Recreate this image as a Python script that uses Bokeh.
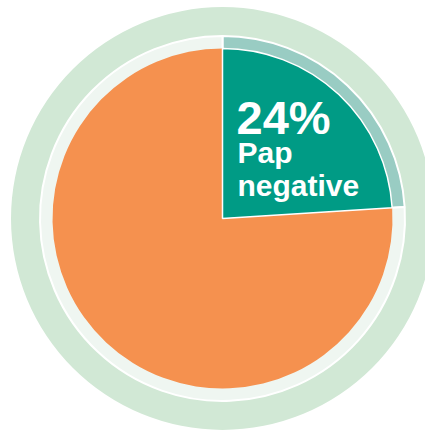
import math
from bokeh.plotting import figure
from bokeh.models import Range1d, ColumnDataSource
from bokeh.core.properties import value
from bokeh.embed import file_html
from bokeh.resources import INLINE

# Data
categories = ["Pap negative", "Other"]
shares = [24, 76]
main_colors = ["#009B85", "#F5914F"]
band_colors = ["#99CCC3", "#EFF6F1"]
label_pct = "24%"
label_lines = ["Pap", "negative"]

W, H = 425, 432
cx, cy = 222, H - 218

# angles: start at top, going clockwise
total = sum(shares)
starts, ends = [], []
a = 90.0
for s in shares:
    starts.append(math.radians(a))
    a -= 360.0 * s / total
    ends.append(math.radians(a))

p = figure(width=W, height=H, output_backend="svg", toolbar_location=None,
           x_range=Range1d(0, W), y_range=Range1d(0, H),
           x_axis_type=None, y_axis_type=None, min_border=0)
p.grid.visible = False
p.outline_line_color = None
p.background_fill_color = "white"
p.border_fill_color = "white"

# outer pale green ring
p.annulus(x=cx, y=cy, inner_radius=182, outer_radius=211.5,
          fill_color="#D1E8D5", line_color=None)

src = ColumnDataSource(dict(cat=categories, start=starts, end=ends,
                            main=main_colors, band=band_colors))

# light band wedges (outer radius) with white outline
p.wedge(x=cx, y=cy, radius=182.5, start_angle="start", end_angle="end",
        direction="clock", fill_color="band", line_color="white",
        line_width=2, source=src)

# main orange wedge (no outline)
orange = ColumnDataSource(dict(start=[starts[1]], end=[ends[1]], c=[main_colors[1]]))
p.wedge(x=cx, y=cy, radius=170, start_angle="start", end_angle="end",
        direction="clock", fill_color="c", line_color=None, source=orange)
# teal wedge with white outline
teal = ColumnDataSource(dict(start=[starts[0]], end=[ends[0]], c=[main_colors[0]]))
p.wedge(x=cx, y=cy, radius=170, start_angle="start", end_angle="end",
        direction="clock", fill_color="c", line_color="white",
        line_width=1.5, source=teal)

font = value("Liberation Sans")
p.text(x=[236], y=[H - 117], text=[label_pct], text_font=font,
       text_font_style="bold", text_font_size="47px", text_color="white",
       text_baseline="alphabetic", text_align="left")
p.text(x=[237, 237], y=[H - 152, H - 185], text=label_lines, text_font=font,
       text_font_style="bold", text_font_size="30px", text_color="white",
       text_baseline="alphabetic", text_align="left")

open("out.html", "w").write(file_html(p, INLINE))
